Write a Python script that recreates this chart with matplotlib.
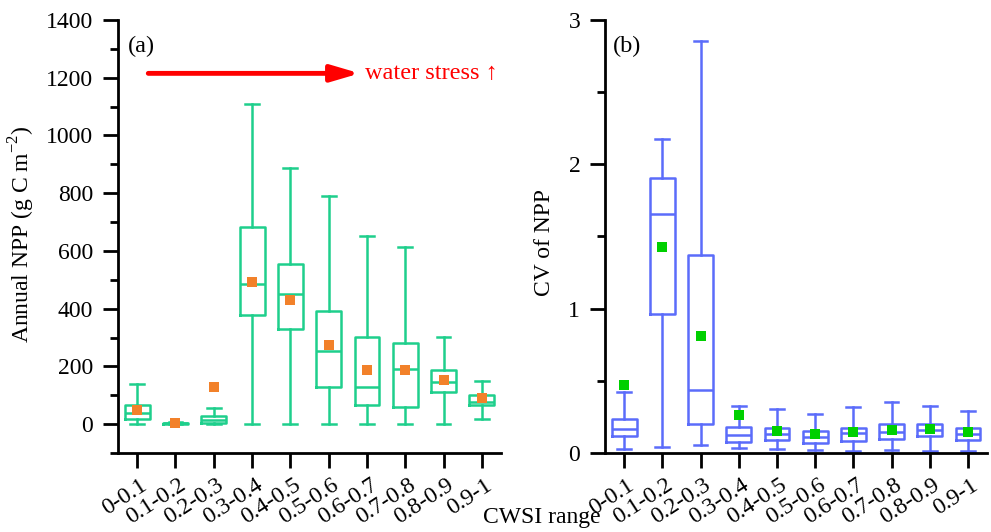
"""Annual NPP and CV of NPP by CWSI range, box plots (a) and (b)"""
import matplotlib
matplotlib.use('Agg')
import matplotlib.pyplot as plt
import matplotlib.transforms as mtransforms
from matplotlib.ticker import MultipleLocator

plt.rcParams['font.family'] = ['Liberation Serif', 'DejaVu Serif']
plt.rcParams['mathtext.fontset'] = 'custom'
plt.rcParams['mathtext.rm'] = 'Liberation Serif'

# CWSI bins
cwsi_bins = ['0-0.1', '0.1-0.2', '0.2-0.3', '0.3-0.4', '0.4-0.5',
             '0.5-0.6', '0.6-0.7', '0.7-0.8', '0.8-0.9', '0.9-1']

# (a) annual NPP, g C m-2
npp_whislo = [0, 0, 0, 0, 0, 0, 0, 0, 0, 17]
npp_q1     = [17, 0, 4, 377, 331, 129, 67, 59, 110, 67]
npp_med    = [40, 3, 14, 485, 452, 254, 128, 190, 146, 77]
npp_q3     = [67, 5, 28, 682, 553, 392, 301, 280, 186, 100]
npp_whishi = [138, 6, 55, 1108, 886, 791, 653, 613, 301, 150]
npp_mean   = [50, 3, 130, 492, 429, 273, 189, 187, 153, 92]

# (b) CV of NPP
cv_whislo = [0.030, 0.042, 0.058, 0.035, 0.028, 0.019, 0.016, 0.021, 0.016, 0.016]
cv_q1     = [0.116, 0.961, 0.201, 0.079, 0.090, 0.072, 0.081, 0.097, 0.116, 0.090]
cv_med    = [0.167, 1.657, 0.433, 0.123, 0.130, 0.111, 0.137, 0.148, 0.157, 0.130]
cv_q3     = [0.236, 1.906, 1.375, 0.178, 0.176, 0.153, 0.176, 0.204, 0.199, 0.174]
cv_whishi = [0.421, 2.172, 2.857, 0.324, 0.303, 0.273, 0.317, 0.356, 0.326, 0.294]
cv_mean   = [0.468, 1.430, 0.813, 0.262, 0.155, 0.130, 0.144, 0.162, 0.164, 0.146]


def make_stats(lo, q1, med, q3, hi):
    return [dict(whislo=a, q1=b, med=c, q3=d, whishi=e, fliers=[])
            for a, b, c, d, e in zip(lo, q1, med, q3, hi)]


def draw_box(ax, stats, means, box_color, mean_color):
    pos = list(range(len(stats)))
    lp = dict(color=box_color, linewidth=1.8)
    ax.bxp(stats, positions=pos, widths=0.65, showfliers=False,
           boxprops=lp, whiskerprops=lp, capprops=lp, medianprops=lp,
           capwidths=0.36, manage_ticks=False)
    ax.plot(pos, means, linestyle='none', marker='s', markersize=7.2,
            color=mean_color, markeredgewidth=0, zorder=5)


def style_axis(ax):
    for s in ('top', 'right'):
        ax.spines[s].set_visible(False)
    for s in ('left', 'bottom'):
        ax.spines[s].set_linewidth(2.0)
    ax.tick_params(which='major', length=10.8, width=2.0, labelsize=17)
    ax.tick_params(axis='y', which='major', pad=7)
    ax.tick_params(axis='x', which='major', pad=11)
    ax.tick_params(which='minor', length=5.8, width=2.0)
    ax.tick_params(axis='x', which='minor', bottom=False)
    ax.set_xlim(-0.5, 9.5)
    ax.set_xticks(range(len(cwsi_bins)))
    ax.set_xticklabels(cwsi_bins, rotation=33, ha='right',
                       rotation_mode='anchor', va='center')
    shift = mtransforms.ScaledTranslation(6 / 72, 0, ax.figure.dpi_scale_trans)
    for lab in ax.get_xticklabels():
        lab.set_transform(lab.get_transform() + shift)


fig = plt.figure(figsize=(9.91, 5.32), dpi=100)
ax1 = fig.add_axes([0.1191, 0.1485, 0.3865, 0.814])
ax2 = fig.add_axes([0.6105, 0.1485, 0.3855, 0.814])

# ── (a) ──
draw_box(ax1, make_stats(npp_whislo, npp_q1, npp_med, npp_q3, npp_whishi),
         npp_mean, '#1ECF8C', '#F2812A')
style_axis(ax1)
ax1.set_ylim(-100, 1400)
ax1.yaxis.set_major_locator(MultipleLocator(200))
ax1.yaxis.set_minor_locator(MultipleLocator(100))
ax1.text(0.026, 0.938, '(a)', transform=ax1.transAxes, fontsize=17.5,
         ha='left', va='center')
ax1.annotate('', xy=(5.81, 1215), xytext=(0.29, 1215),
             arrowprops=dict(arrowstyle='-|>,head_length=1.7,head_width=0.5',
                             color='#FF0000', lw=3.5, shrinkA=0, shrinkB=0))
ax1.text(5.94, 1215, 'water stress ↑', color='#FF0000', fontsize=17.5,
         ha='left', va='center')

# ── (b) ──
draw_box(ax2, make_stats(cv_whislo, cv_q1, cv_med, cv_q3, cv_whishi),
         cv_mean, '#5B6CFA', '#00D000')
style_axis(ax2)
ax2.set_ylim(0, 3)
ax2.yaxis.set_major_locator(MultipleLocator(1))
ax2.yaxis.set_minor_locator(MultipleLocator(0.5))
ax2.text(0.021, 0.938, '(b)', transform=ax2.transAxes, fontsize=17.5,
         ha='left', va='center')

fig.text(22 / 991, 1 - 234 / 532, 'Annual NPP (g C m$^{-2}$)', rotation=90,
         ha='center', va='center', fontsize=17)
fig.text(545 / 991, 1 - 242 / 532, 'CV of NPP', rotation=90,
         ha='center', va='center', fontsize=17)
fig.text(542 / 991, 1 - 518 / 532, 'CWSI range', ha='center', va='center',
         fontsize=17)

fig.savefig('out.png', dpi=100)
plt.close(fig)
